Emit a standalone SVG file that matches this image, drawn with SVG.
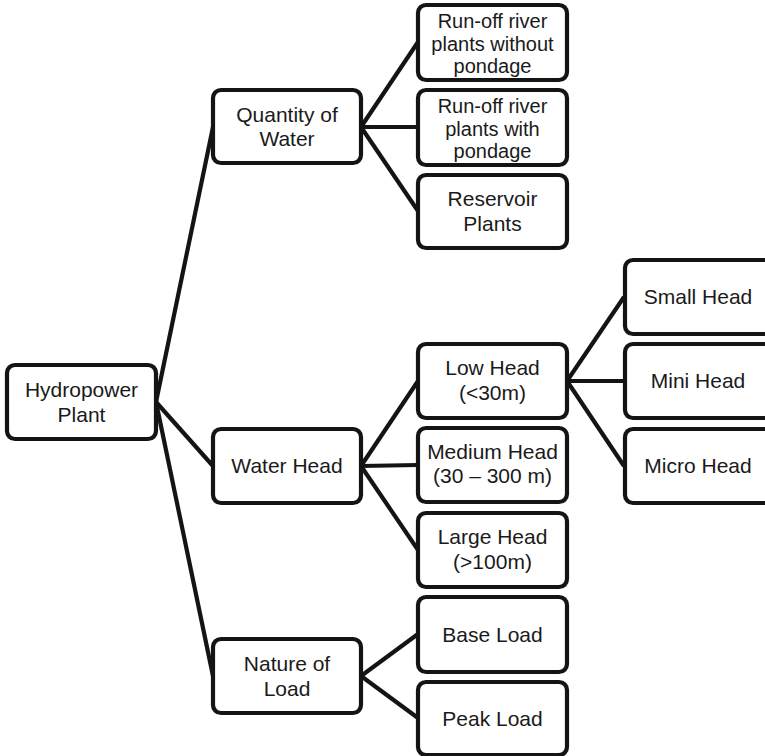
<svg xmlns="http://www.w3.org/2000/svg" width="765" height="756" viewBox="0 0 765 756">
<style>
.box{fill:#fff;stroke:#141414;stroke-width:4.2;}
.lk{stroke:#141414;stroke-width:4.2;fill:none;}
text{font-family:"Liberation Sans",Arial,sans-serif;font-size:21px;fill:#1a1a1a;text-anchor:middle;}
.s{font-size:20px;}
</style>
<rect width="765" height="756" fill="#fff"/>
<g id="connectors">
<line class="lk" x1="156" y1="402" x2="213" y2="127"/>
<line class="lk" x1="156" y1="402" x2="213" y2="466"/>
<line class="lk" x1="156" y1="402" x2="213" y2="676"/>
<line class="lk" x1="361" y1="127" x2="418" y2="42"/>
<line class="lk" x1="361" y1="127" x2="418" y2="127"/>
<line class="lk" x1="361" y1="127" x2="418" y2="211"/>
<line class="lk" x1="361" y1="466" x2="418" y2="381"/>
<line class="lk" x1="361" y1="466" x2="418" y2="465"/>
<line class="lk" x1="361" y1="466" x2="418" y2="550"/>
<line class="lk" x1="361" y1="676" x2="418" y2="634"/>
<line class="lk" x1="361" y1="676" x2="418" y2="718"/>
<line class="lk" x1="567" y1="381" x2="624" y2="297"/>
<line class="lk" x1="567" y1="381" x2="624" y2="381"/>
<line class="lk" x1="567" y1="381" x2="624" y2="466"/>
</g>
<g id="hydropower">
<rect class="box" x="7" y="365" width="149" height="74" rx="8"/>
<text x="81.5" y="397">Hydropower</text>
<text x="81.5" y="421.5">Plant</text>
</g>
<g id="quantity">
<rect class="box" x="213" y="90" width="148" height="73" rx="8"/>
<text x="287" y="121.5">Quantity of</text>
<text x="287" y="146">Water</text>
</g>
<g id="waterhead">
<rect class="box" x="213" y="429" width="148" height="74" rx="8"/>
<text x="287" y="473">Water Head</text>
</g>
<g id="nature">
<rect class="box" x="213" y="639" width="148" height="74" rx="8"/>
<text x="287" y="671">Nature of</text>
<text x="287" y="695.5">Load</text>
</g>
<g id="runoff-without">
<rect class="box" x="418" y="5" width="149" height="75" rx="8"/>
<text class="s" x="492.5" y="28">Run-off river</text>
<text class="s" x="492.5" y="50.5">plants without</text>
<text class="s" x="492.5" y="73">pondage</text>
</g>
<g id="runoff-with">
<rect class="box" x="418" y="90" width="149" height="75" rx="8"/>
<text class="s" x="492.5" y="113">Run-off river</text>
<text class="s" x="492.5" y="135.5">plants with</text>
<text class="s" x="492.5" y="158">pondage</text>
</g>
<g id="reservoir">
<rect class="box" x="418" y="175" width="149" height="73" rx="8"/>
<text x="492.5" y="206">Reservoir</text>
<text x="492.5" y="230.5">Plants</text>
</g>
<g id="lowhead">
<rect class="box" x="418" y="344" width="149" height="74" rx="8"/>
<text x="492.5" y="375">Low Head</text>
<text x="492.5" y="399.5">(&lt;30m)</text>
</g>
<g id="mediumhead">
<rect class="box" x="418" y="428" width="149" height="74" rx="8"/>
<text x="492.5" y="458.5">Medium Head</text>
<text x="492.5" y="483">(30 – 300 m)</text>
</g>
<g id="largehead">
<rect class="box" x="418" y="513" width="149" height="74" rx="8"/>
<text x="492.5" y="544">Large Head</text>
<text x="492.5" y="568.5">(&gt;100m)</text>
</g>
<g id="baseload">
<rect class="box" x="418" y="597" width="149" height="75" rx="8"/>
<text x="492.5" y="641.5">Base Load</text>
</g>
<g id="peakload">
<rect class="box" x="418" y="682" width="149" height="73" rx="8"/>
<text x="492.5" y="726">Peak Load</text>
</g>
<g id="smallhead">
<rect class="box" x="625" y="260" width="149" height="74" rx="8"/>
<text x="698" y="303.5">Small Head</text>
</g>
<g id="minihead">
<rect class="box" x="625" y="344" width="149" height="74" rx="8"/>
<text x="698" y="388">Mini Head</text>
</g>
<g id="microhead">
<rect class="box" x="625" y="429" width="149" height="74" rx="8"/>
<text x="698" y="473">Micro Head</text>
</g>
</svg>
